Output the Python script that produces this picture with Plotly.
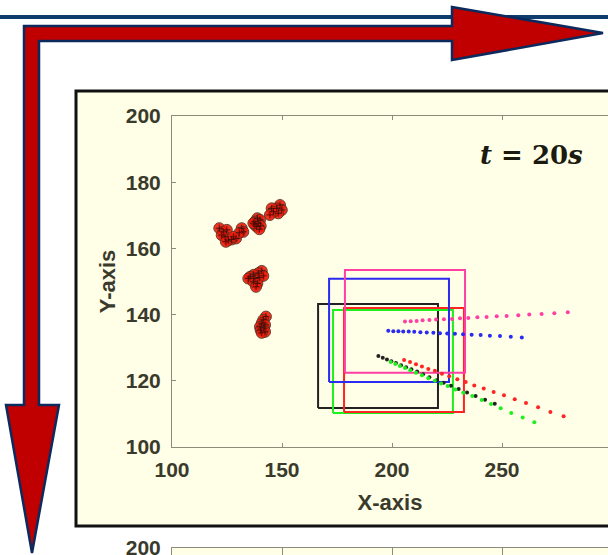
"""Snapshot of the tracking scene at t = 20 s, with the bent red arrow decoration."""

import plotly.graph_objects as go

W, H = 608, 555

# Detections (red circles)
det_x = [149.1, 149.9, 147.6, 145.3, 148.3, 146.1, 144.5,
         138.8, 140.0, 137.7, 139.2, 138.5, 140.3, 137.7, 139.7, 137.0,
         121.5, 123.3, 124.9, 124.1, 125.6, 127.1, 129.1, 122.6, 124.5, 131.7, 132.4, 130.6, 127.9,
         140.8, 139.2, 137.0, 135.5, 134.7, 137.7, 139.7, 141.5, 137.0, 138.8, 138.2,
         142.7, 141.5, 140.8, 142.3, 140.0, 141.8, 140.3, 142.3, 140.8]
det_y = [173.1, 171.6, 172.1, 172.1, 170.6, 171.1, 170.1,
         169.1, 168.6, 168.1, 167.6, 166.6, 166.8, 167.1, 165.8, 167.6,
         166.1, 165.0, 165.6, 163.5, 162.5, 162.7, 163.0, 164.0, 162.0, 166.1, 165.0, 164.7, 163.5,
         153.2, 152.5, 152.0, 151.4, 150.9, 150.9, 151.2, 151.7, 149.9, 149.4, 148.4,
         139.4, 138.4, 137.4, 136.9, 136.3, 135.9, 135.3, 134.8, 134.5]

# Track boxes: left, right, bottom, top
track_names = ["black", "green", "red", "blue", "pink"]
track_colors = ["#222222", "#1ef01e", "#ff2424", "#2a2af0", "#ff3fa6"]
box_x0 = [166.4, 173.2, 178.2, 171.4, 178.6]
box_x1 = [220.9, 227.7, 232.7, 225.9, 233.2]
box_y0 = [111.8, 110.3, 110.6, 119.6, 122.4]
box_y1 = [143.2, 141.4, 142.0, 150.8, 153.5]

# Predicted paths (dotted)
path_x = [
    [193.8, 195.8, 197.7, 199.7, 201.8, 204.1, 206.4, 208.8, 211.4, 214.1,
     217.0, 220.3, 223.5, 226.8, 230.3, 234.1, 238.0, 242.3, 246.7],
    [199.4, 201.5, 203.6, 205.9, 208.3, 210.9, 213.6, 216.5, 219.5, 222.3,
     225.3, 228.8, 232.4, 236.5, 240.8, 245.0, 249.4, 254.2, 259.4, 264.7],
    [205.5, 208.2, 210.9, 213.6, 216.5, 219.5, 222.7, 226.0, 229.7, 233.5,
     237.4, 241.7, 246.2, 250.9, 255.8, 260.9, 266.4, 272.0, 278.0],
    [198.3, 200.6, 202.9, 205.1, 207.6, 210.1, 212.9, 215.8, 218.8, 221.8,
     225.1, 228.6, 232.3, 236.2, 240.3, 244.5, 249.1, 254.0, 259.0],
    [205.9, 208.5, 211.2, 213.9, 217.0, 220.0, 223.6, 227.3, 230.9, 234.7,
     238.8, 243.0, 247.6, 252.1, 257.4, 262.4, 268.0, 273.8, 279.9],
]
path_y = [
    [127.5, 127.0, 126.4, 125.9, 125.4, 124.7, 124.1, 123.5, 122.8, 122.0,
     121.1, 120.2, 119.4, 118.5, 117.5, 116.5, 115.4, 114.3, 113.1],
    [125.7, 125.1, 124.5, 123.9, 123.2, 122.4, 121.7, 120.8, 120.0, 119.2,
     118.4, 117.4, 116.4, 115.4, 114.2, 113.0, 111.7, 110.3, 108.9, 107.5],
    [126.3, 125.7, 125.0, 124.3, 123.6, 123.0, 122.1, 121.4, 120.5, 119.6,
     118.6, 117.7, 116.6, 115.6, 114.4, 113.3, 112.0, 110.6, 109.3],
    [135.1, 135.0, 135.0, 134.9, 134.9, 134.8, 134.7, 134.6, 134.5, 134.4,
     134.3, 134.2, 134.1, 133.9, 133.8, 133.6, 133.5, 133.3, 133.1],
    [137.9, 138.0, 138.1, 138.3, 138.4, 138.5, 138.6, 138.7, 138.9, 139.0,
     139.2, 139.3, 139.5, 139.6, 139.8, 140.0, 140.2, 140.4, 140.7],
]

x_ticks = [100, 150, 200, 250, 300]
y_ticks = [100, 120, 140, 160, 180, 200]

CREAM = "#fffee6"
AXIS = "#8c8c7a"
TXT = "#3a3a2c"


def px(x, y):
    """pixel -> paper coordinates"""
    return x / W, 1 - y / H


def path_from(points):
    parts = []
    for i, (x, y) in enumerate(points):
        u, v = px(x, y)
        parts.append(("M" if i == 0 else "L") + f"{u:.5f},{v:.5f}")
    return " ".join(parts) + " Z"


fig = go.Figure()

# Cajas de seguimiento
for name, col, a, b, c, d in zip(track_names, track_colors, box_x0, box_x1, box_y0, box_y1):
    fig.add_trace(go.Scatter(
        x=[a, b, b, a, a], y=[c, c, d, d, c], mode="lines",
        line=dict(color=col, width=2), showlegend=False, hoverinfo="skip",
    ))

# Trayectorias punteadas
for name, col, xs, ys in zip(track_names, track_colors, path_x, path_y):
    fig.add_trace(go.Scatter(
        x=xs, y=ys, mode="markers",
        marker=dict(color=col, size=4), showlegend=False, name=name,
    ))

# Detecciones
fig.add_trace(go.Scatter(
    x=det_x, y=det_y, mode="markers",
    marker=dict(color="#f01a0a", size=11, opacity=0.9,
                line=dict(color="#5a3020", width=1)),
    showlegend=False,
))
fig.add_trace(go.Scatter(
    x=det_x, y=det_y, mode="markers",
    marker=dict(symbol="cross-thin", color="#3a0a05", size=5,
                line=dict(color="#3a0a05", width=0.8)),
    showlegend=False, hoverinfo="skip",
))

# Second panel peeking from the bottom
fig.add_trace(go.Scatter(x=[None], y=[None], xaxis="x2", yaxis="y2", showlegend=False))

tick_font = dict(family="Liberation Sans, Arial", size=21, color=TXT, weight="bold")
title_font = dict(family="Liberation Sans, Arial", size=22, color=TXT, weight="bold")

fig.update_layout(
    width=W, height=H,
    margin=dict(l=0, r=0, t=0, b=0),
    paper_bgcolor="white",
    plot_bgcolor=CREAM,
    xaxis=dict(
        domain=[172 / W, 1], range=[100, 100 + (W - 172) / 2.2],
        tickvals=x_ticks, ticks="inside", ticklen=4, tickcolor=AXIS,
        showline=True, linecolor=AXIS, linewidth=1, mirror="ticks",
        showgrid=False, zeroline=False, tickfont=tick_font, ticklabelstandoff=4,
        title=dict(text="X-axis", font=title_font, standoff=14),
        automargin=False,
    ),
    yaxis=dict(
        domain=[(H - 447) / H, (H - 116) / H], range=[100, 200],
        tickvals=y_ticks, ticks="inside", ticklen=4, tickcolor=AXIS,
        showline=True, linecolor=AXIS, linewidth=1, mirror=False,
        showgrid=False, zeroline=False, tickfont=tick_font, ticklabelstandoff=6,
        title=dict(text="Y-axis", font=title_font, standoff=4),
        automargin=False,
    ),
    xaxis2=dict(
        domain=[172 / W, 1], range=[100, 100 + (W - 172) / 2.2], anchor="y2",
        tickvals=x_ticks, ticks="inside", ticklen=4, tickcolor=AXIS,
        showline=True, linecolor=AXIS, mirror="ticks", showticklabels=False,
        showgrid=False, zeroline=False, automargin=False,
    ),
    yaxis2=dict(
        domain=[0, (H - 548) / H], range=[198.5, 200], anchor="x2",
        tickvals=[200], ticks="inside", ticklen=4, tickcolor=AXIS,
        showline=True, linecolor=AXIS, showgrid=False, zeroline=False,
        tickfont=tick_font, ticklabelstandoff=6, automargin=False,
        ticklabeloverflow="allow",
    ),
    annotations=[dict(
        x=263.2, y=188.2, xref="x", yref="y", showarrow=False,
        text="<b><i>t</i> = 20<i>s</i></b>",
        font=dict(family="DejaVu Serif", size=26, color="#1a1a10"),
    )],
)

# Decoration: top rule, bent arrow, cream panel
fig.add_shape(type="line", xref="paper", yref="paper",
              x0=0, x1=1, y0=px(0, 17)[1], y1=px(0, 17)[1],
              line=dict(color="#0e3c6c", width=4), layer="below")

arrow = [(24, 26), (452, 26), (452, 7), (603, 33), (452, 60), (452, 41),
         (39, 41), (39, 405), (59, 405), (32, 553), (6, 405), (24, 405)]
fig.add_shape(type="path", xref="paper", yref="paper", path=path_from(arrow),
              fillcolor="#c00000", line=dict(color="#0b2a5e", width=2.5), layer="above")

u0, v0 = px(76, 91)
u1, v1 = px(625, 526)
fig.add_shape(type="rect", xref="paper", yref="paper", x0=u0, x1=u1, y0=v1, y1=v0,
              fillcolor=CREAM, line=dict(color="#111111", width=3), layer="below")

# page body has an 8px margin by default; drop it so the figure fills the window
fig.write_html("out.html", config={"displayModeBar": False},
               post_script="document.body.style.margin='0';")
